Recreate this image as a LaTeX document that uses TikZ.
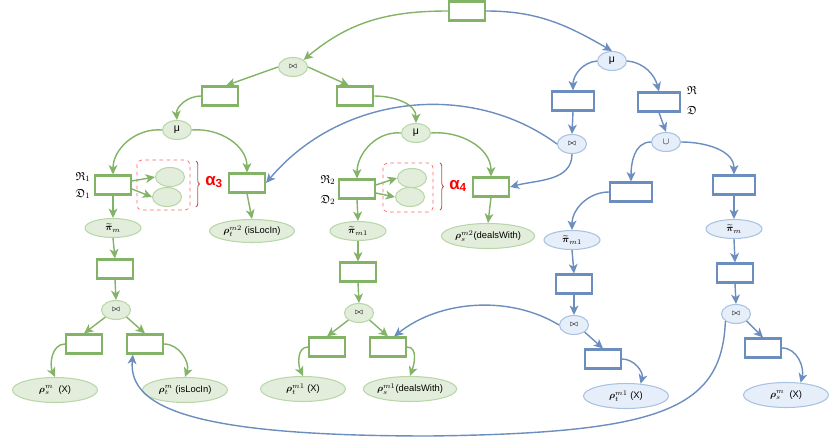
\documentclass[tikz,border=0pt]{standalone}
\usepackage{amsmath,amssymb}
\usepackage{fontspec}
\setsansfont{Liberation Sans}
\usetikzlibrary{shapes.geometric,arrows.meta,decorations.pathreplacing}
\definecolor{gline}{HTML}{82B366}
\definecolor{gedge}{HTML}{B9D6A8}
\definecolor{gfill}{HTML}{E2EEDB}
\definecolor{bline}{HTML}{6C8EBF}
\definecolor{bedge}{HTML}{A9C1E2}
\definecolor{bfill}{HTML}{E6EEF9}
\definecolor{bracered}{HTML}{B85450}
\tikzset{>={Stealth[length=8pt,width=7.5pt,inset=2.2pt]}}
\tikzset{
  every node/.style = {font=\sffamily\footnotesize},
  grect/.style = {draw=gline,line width=2.1pt,fill=white,
    minimum width=1.07cm,minimum height=0.56cm,inner sep=0pt},
  brect/.style = {grect,draw=bline},
  bwide/.style = {minimum width=1.25cm},
  gell/.style = {ellipse,draw=gedge,fill=gfill,line width=0.9pt,inner sep=0pt,
    minimum width=0.87cm,minimum height=0.57cm},
  bell/.style = {gell,draw=bedge,fill=bfill},
  wide/.style = {minimum width=1.68cm},
  rho/.style = {minimum width=2.55cm,minimum height=0.75cm},
  garrow/.style = {->,draw=gline,line width=1.2pt},
  barrow/.style = {->,draw=bline,line width=1.2pt},
  alphalabel/.style = {text=red,font=\sffamily\bfseries\Large},
  groupbox/.style = {draw=red!60,dashed,rounded corners=4pt,line width=0.6pt},
  bracedeco/.style = {decorate,decoration={brace,amplitude=3pt},
    draw=bracered,line width=0.7pt}
}

\begin{document}
\begin{tikzpicture}[x=0.03cm,y=-0.03cm]
  \useasboundingbox (0,0) rectangle (830,441);
  % green part
  \node[grect] (top) at (467,11) {};
  \node[gell] (gjT) at (293,67) {\scriptsize$\bowtie$};
  \node[grect] (gA) at (220,96) {};
  \node[grect] (gB) at (355,96) {};
  \node[gell] (gmuL) at (177,130) {\small μ};
  \node[gell] (gmuM) at (416,133) {\small μ};
  \node[grect] (gR1) at (113,185) {};
  \node[grect] (gLI) at (247,183) {};
  \node[gell] (ga1) at (170,177) {};
  \node[gell] (ga2) at (167,197) {};
  \node[gell,wide] (gpiL) at (113,228) {$\widetilde{\boldsymbol\pi}_m$};
  \node[gell,rho,minimum height=0.69cm] (gLIe) at (252,231) {$\boldsymbol\rho_t^{m2}$ (isLocIn)};
  \node[grect] (gL1) at (115,269) {};
  \node[gell] (gjL) at (116,310) {\scriptsize$\bowtie$};
  \node[grect] (gLa) at (84,344) {};
  \node[grect] (gLb) at (145,344) {};
  \node[gell,rho] (gLae) at (55,390) {$\boldsymbol\rho_s^{m}$\ \ (X)};
  \node[gell,rho] (gLbe) at (185,390) {$\boldsymbol\rho_t^{m}$ (isLocIn)};

  \node[grect] (gR2) at (357,189) {};
  \node[gell] (ga3) at (412,178) {};
  \node[gell] (ga4) at (410,197) {};
  \node[grect] (gDW) at (491,187) {};
  \node[gell,rho] (gDWe) at (488,236) {$\boldsymbol\rho_s^{m2}$(dealsWith)};
  \node[gell,wide] (gpiM) at (358,231) {$\widetilde{\boldsymbol\pi}_{m1}$};
  \node[grect] (gM1) at (358,272) {};
  \node[gell] (gjM) at (359,313) {\scriptsize$\bowtie$};
  \node[grect] (gMa) at (327,347) {};
  \node[grect] (gMb) at (388,347) {};
  \node[gell,rho] (gMae) at (303,389) {$\boldsymbol\rho_t^{m1}$ (X)};
  \node[gell,rho,minimum width=2.8cm] (gMbe) at (410,389) {$\boldsymbol\rho_s^{m1}$(dealsWith)};

  % labels
  \node (lR1) at (83,177) {\normalsize$\mathfrak{R}_1$};
  \node (lD1) at (83,194) {\normalsize$\mathfrak{D}_1$};
  \node (lR2) at (328,180) {\normalsize$\mathfrak{R}_2$};
  \node (lD2) at (328,200) {\normalsize$\mathfrak{D}_2$};
  \node (lR) at (692,90) {\normalsize$\mathfrak{R}$};
  \node (lD) at (692,110) {\normalsize$\mathfrak{D}$};
  \draw[groupbox] (137,160) rectangle (190,210);
  \draw[bracedeco] (196,161) -- (196,207);
  \node[alphalabel] (al3) at (214,182) {α\textsubscript{3}};
  \draw[groupbox] (383,163) rectangle (433,212);
  \draw[bracedeco] (440,163) -- (440,210);
  \node[alphalabel] (al4) at (458,186) {α\textsubscript{4}};

  % blue part
  \node[bell] (bmu) at (612,61) {\small μ};
  \node[brect,bwide] (bR1) at (573,101) {};
  \node[brect,bwide] (bR2) at (659,102) {};
  \node[bell] (bjM) at (572,144) {\scriptsize$\bowtie$};
  \node[bell] (bcup) at (666,142) {$\cup$};
  \node[brect,bwide] (bL2) at (631,192) {};
  \node[brect,bwide] (bR3) at (734,185) {};
  \node[bell,wide] (bpiL) at (572,240) {$\widetilde{\boldsymbol\pi}_{m1}$};
  \node[bell,wide] (bpiR) at (734,229) {$\widetilde{\boldsymbol\pi}_m$};
  \node[brect] (bL3) at (574,284) {};
  \node[bell] (bjL) at (574,325) {\scriptsize$\bowtie$};
  \node[brect] (bLa) at (603,359) {};
  \node[bell,rho] (bLae) at (626,396) {$\boldsymbol\rho_t^{m1}$ (X)};
  \node[brect] (bR4) at (735,273) {};
  \node[bell] (bjR) at (736,314) {\scriptsize$\bowtie$};
  \node[brect] (bRa) at (763,348) {};
  \node[bell,rho] (bRae) at (786,395) {$\boldsymbol\rho_s^{m}$\ \ (X)};

  % green arrows
  \draw[garrow] (top.west) to[out=180,in=40] (gjT.north east);
  \draw[garrow] (gjT.west) -- (gA.60);
  \draw[garrow] (gjT.east) -- (gB.120);
  \draw[garrow] (gA.west) to[out=180,in=95] (gmuL.north);
  \draw[garrow] (gB.east) to[out=0,in=90] (gmuM.north);
  \draw[garrow] (gmuL.west) to[out=175,in=90] (gR1.north);
  \draw[garrow] (gmuL.east) to[out=5,in=90] (gLI.north);
  \draw[garrow] (gR1.12) -- (ga1.west);
  \draw[garrow] (gR1.-12) -- (ga2.west);
  \draw[garrow] (gR1.south) -- (gpiL.north);
  \draw[garrow] (gLI.south) -- (gLIe.north);
  \draw[garrow] (gpiL.south) -- (gL1.north);
  \draw[garrow] (gL1.south) -- (gjL.north);
  \draw[garrow] (gjL.south west) -- (gLa.north);
  \draw[garrow] (gjL.south east) -- (gLb.north);
  \draw[garrow] (gLa.west) to[out=180,in=115] (gLae.north);
  \draw[garrow] (gLb.east) to[out=0,in=70] (gLbe.north);
  \draw[garrow] (gmuM.west) to[out=175,in=90] (gR2.north);
  \draw[garrow] (gmuM.east) to[out=5,in=90] (gDW.north);
  \draw[garrow] (gR2.12) -- (ga3.west);
  \draw[garrow] (gR2.-12) -- (ga4.west);
  \draw[garrow] (gR2.south) -- (gpiM.north);
  \draw[garrow] (gDW.south) -- (gDWe.north);
  \draw[garrow] (gpiM.south) -- (gM1.north);
  \draw[garrow] (gM1.south) -- (gjM.north);
  \draw[garrow] (gjM.south west) -- (gMa.north);
  \draw[garrow] (gjM.south east) -- (gMb.north);
  \draw[garrow] (gMa.west) to[out=180,in=115] (gMae.north);
  \draw[garrow] (gMb.east) to[out=0,in=70] (gMbe.north);

  % blue arrows
  \draw[barrow] (top.east) to[out=0,in=150] (bmu.north);
  \draw[barrow] (bmu.west) to[out=185,in=90] (bR1.north);
  \draw[barrow] (bmu.east) to[out=-5,in=105] (bR2.north);
  \draw[barrow] (bR1.south) -- (bjM.north);
  \draw[barrow] (bR2.south) -- (bcup.north);
  \draw[barrow] (bcup.west) to[out=180,in=90] (bL2.north);
  \draw[barrow] (bcup.east) to[out=0,in=90] (bR3.north);
  \draw[barrow] (bjM.west) .. controls (470,80) and (340,95) .. (gLI.east);
  \draw[barrow] (bjM.south) to[out=-90,in=15] (gDW.east);
  \draw[barrow] (bL2.west) to[out=180,in=90] (bpiL.north);
  \draw[barrow] (bR3.south) -- (bpiR.north);
  \draw[barrow] (bpiL.south) -- (bL3.north);
  \draw[barrow] (bL3.south) -- (bjL.north);
  \draw[barrow] (bjL.south east) -- (bLa.north);
  \draw[barrow] (bLa.east) to[out=0,in=75] (bLae.40);
  \draw[barrow] (bpiR.south) -- (bR4.north);
  \draw[barrow] (bR4.south) -- (bjR.north);
  \draw[barrow] (bjR.south east) -- (bRa.north);
  \draw[barrow] (bRa.east) to[out=0,in=75] (bRae.40);
  \draw[barrow] (bjL.west) .. controls (510,295) and (440,300) .. (gMb.60);
  \draw[barrow] (bjR.south west) .. controls (722,410) and (660,433) .. (430,436)
    .. controls (200,436) and (128,410) .. (gLb.221);
\end{tikzpicture}
\end{document}
